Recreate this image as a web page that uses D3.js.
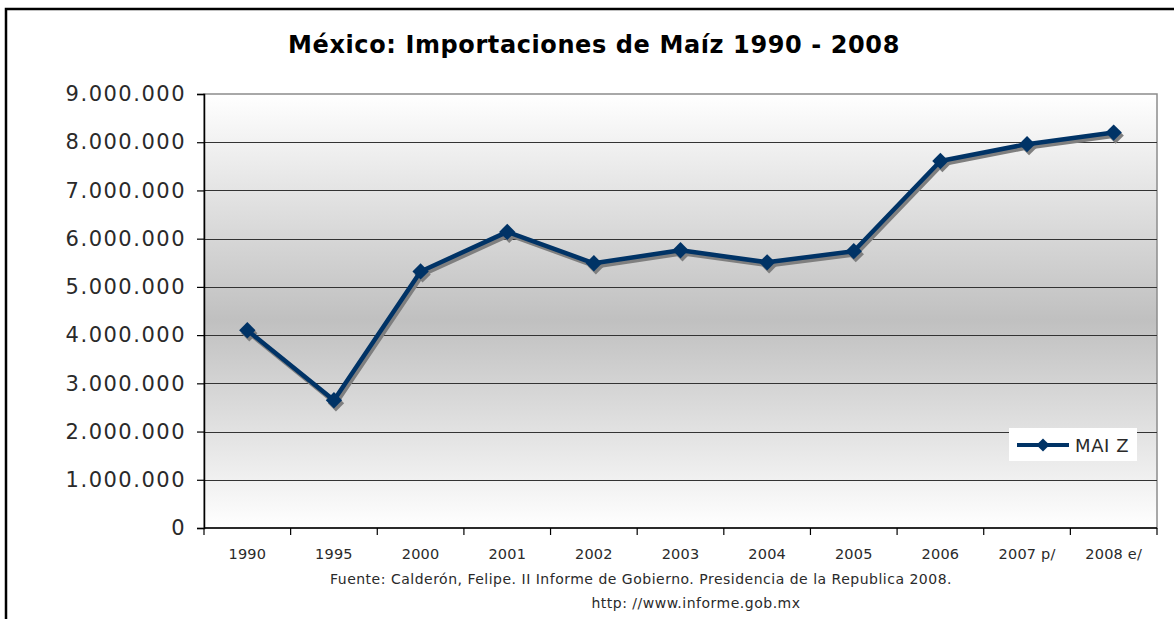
<!DOCTYPE html>
<html>
<head>
<meta charset="utf-8">
<script src="https://cdn.jsdelivr.net/npm/d3@7"></script>
<style>
  body { margin: 0; background: #fff; }
  svg { display: block; }
</style>
</head>
<body>
<svg></svg>
<script>
const years = ['1990', '1995', '2000', '2001', '2002', '2003', '2004', '2005', '2006', '2007 p/', '2008 e/']
const maiz = [4100000, 2650000, 5320000, 6140000, 5490000, 5760000, 5510000, 5740000, 7610000, 7960000, 8200000]
const yTicks = [0, 1000000, 2000000, 3000000, 4000000, 5000000, 6000000, 7000000, 8000000, 9000000]

const width = 1174
const height = 619
const margin = {top: 94, right: 17, bottom: 91, left: 204}
const textFont = 'DejaVu Sans, sans-serif'
const textColor = '#2a2a2a'

let svg = d3.select('svg')
  .attr('width', width)
  .attr('height', height)

// outer frame
svg.append('rect')
  .attr('x', 6).attr('y', 9)
  .attr('width', width + 20).attr('height', height + 20)
  .attr('fill', '#fff')
  .attr('stroke', '#000')
  .attr('stroke-width', 2.5)

let defs = svg.append('defs')
let grad = defs.append('linearGradient')
  .attr('id', 'bg').attr('x1', 0).attr('y1', 0).attr('x2', 0).attr('y2', 1)
grad.append('stop').attr('offset', '0%').attr('stop-color', '#ffffff')
grad.append('stop').attr('offset', '52%').attr('stop-color', '#c0c0c0')
grad.append('stop').attr('offset', '100%').attr('stop-color', '#ffffff')

let x = d3.scaleBand()
  .domain(years)
  .range([margin.left, width - margin.right])

let y = d3.scaleLinear()
  .domain([0, 9000000])
  .range([height - margin.bottom, margin.top])

let fmt = d => d3.format(',')(d).replace(/,/g, '.')

// plot area
svg.append('rect')
  .attr('x', margin.left)
  .attr('y', margin.top)
  .attr('width', width - margin.right - margin.left)
  .attr('height', height - margin.bottom - margin.top)
  .attr('fill', 'url(#bg)')
  .attr('stroke', '#8c8c8c')
  .attr('stroke-width', 1.5)

// gridlines
svg.append('g')
  .selectAll('line')
  .data(yTicks.filter(d => d > 0 && d < 9000000))
  .join('line')
  .attr('x1', margin.left).attr('x2', width - margin.right)
  .attr('y1', d => Math.round(y(d)) + 0.5).attr('y2', d => Math.round(y(d)) + 0.5)
  .attr('stroke', '#333')
  .attr('stroke-width', 1)

// y axis
let yAxis = svg.append('g')
  .attr('transform', `translate(${margin.left},0)`)
  .call(d3.axisLeft(y).tickValues(yTicks).tickFormat(fmt).tickSize(7).tickPadding(11))
yAxis.select('.domain').attr('stroke', '#000').attr('stroke-width', 1.5)
yAxis.selectAll('.tick line').attr('stroke', '#000').attr('stroke-width', 1.2)
yAxis.selectAll('text')
  .attr('font-family', textFont)
  .attr('font-size', 21)
  .attr('letter-spacing', 1.5)
  .attr('fill', textColor)

// x axis with ticks at band boundaries
let xAxis = svg.append('g')
  .attr('transform', `translate(0,${height - margin.bottom})`)
xAxis.append('line')
  .attr('x1', margin.left).attr('x2', width - margin.right)
  .attr('stroke', '#000').attr('stroke-width', 1.5)
xAxis.selectAll('.tk')
  .data(years.concat(['end']))
  .join('line')
  .attr('class', 'tk')
  .attr('x1', d => d === 'end' ? width - margin.right : x(d))
  .attr('x2', d => d === 'end' ? width - margin.right : x(d))
  .attr('y1', 0).attr('y2', 7)
  .attr('stroke', '#000').attr('stroke-width', 1.2)
xAxis.selectAll('text')
  .data(years)
  .join('text')
  .attr('x', d => x(d) + x.bandwidth() / 2)
  .attr('y', 31)
  .attr('text-anchor', 'middle')
  .attr('font-family', textFont)
  .attr('font-size', 14.5)
  .attr('letter-spacing', 0.2)
  .attr('fill', textColor)
  .text(d => d)

let line = d3.line()
  .x((d, i) => x(years[i]) + x.bandwidth() / 2)
  .y(d => y(d))

let diamond = d3.symbol().type(d3.symbolDiamond2).size(170)

// shadow
let shadow = svg.append('g').attr('transform', 'translate(2,3)')
shadow.append('path')
  .attr('d', line(maiz))
  .attr('fill', 'none')
  .attr('stroke', '#7f7f7f')
  .attr('stroke-width', 4.5)
  .attr('stroke-linejoin', 'round')
shadow.selectAll('path.m')
  .data(maiz)
  .join('path')
  .attr('class', 'm')
  .attr('d', diamond)
  .attr('transform', (d, i) => `translate(${x(years[i]) + x.bandwidth() / 2},${y(d)})`)
  .attr('fill', '#7f7f7f')

// series
svg.append('path')
  .attr('d', line(maiz))
  .attr('fill', 'none')
  .attr('stroke', '#003366')
  .attr('stroke-width', 4.5)
  .attr('stroke-linejoin', 'round')
svg.append('g')
  .selectAll('path')
  .data(maiz)
  .join('path')
  .attr('d', diamond)
  .attr('transform', (d, i) => `translate(${x(years[i]) + x.bandwidth() / 2},${y(d)})`)
  .attr('fill', '#003366')

// legend
let legend = svg.append('g').attr('transform', 'translate(1009,428)')
legend.append('rect')
  .attr('width', 128).attr('height', 33)
  .attr('fill', '#fff')
legend.append('line')
  .attr('x1', 8).attr('x2', 60)
  .attr('y1', 17).attr('y2', 17)
  .attr('stroke', '#003366').attr('stroke-width', 4)
legend.append('path')
  .attr('d', d3.symbol().type(d3.symbolDiamond2).size(110))
  .attr('transform', 'translate(34,17)')
  .attr('fill', '#003366')
legend.append('text')
  .attr('x', 66).attr('y', 24)
  .attr('font-family', textFont)
  .attr('font-size', 18)
  .attr('letter-spacing', 0.6)
  .attr('fill', textColor)
  .text('MAI Z')

// title
svg.append('text')
  .attr('x', 594).attr('y', 53)
  .attr('text-anchor', 'middle')
  .attr('font-family', 'DejaVu Sans, Verdana, sans-serif')
  .attr('font-weight', 'bold')
  .attr('font-size', 24)
  .attr('letter-spacing', 0.6)
  .attr('fill', '#000')
  .text('México: Importaciones de Maíz 1990 - 2008')

// source
svg.append('text')
  .attr('x', 641).attr('y', 584)
  .attr('text-anchor', 'middle')
  .attr('font-family', textFont)
  .attr('font-size', 14)
  .attr('letter-spacing', 0.5)
  .attr('fill', textColor)
  .text('Fuente:  Calderón, Felipe. II Informe de Gobierno. Presidencia de la Republica 2008.')
svg.append('text')
  .attr('x', 696).attr('y', 608)
  .attr('text-anchor', 'middle')
  .attr('font-family', textFont)
  .attr('font-size', 14)
  .attr('letter-spacing', 0.5)
  .attr('fill', textColor)
  .text('http: //www.informe.gob.mx')
</script>
</body>
</html>
